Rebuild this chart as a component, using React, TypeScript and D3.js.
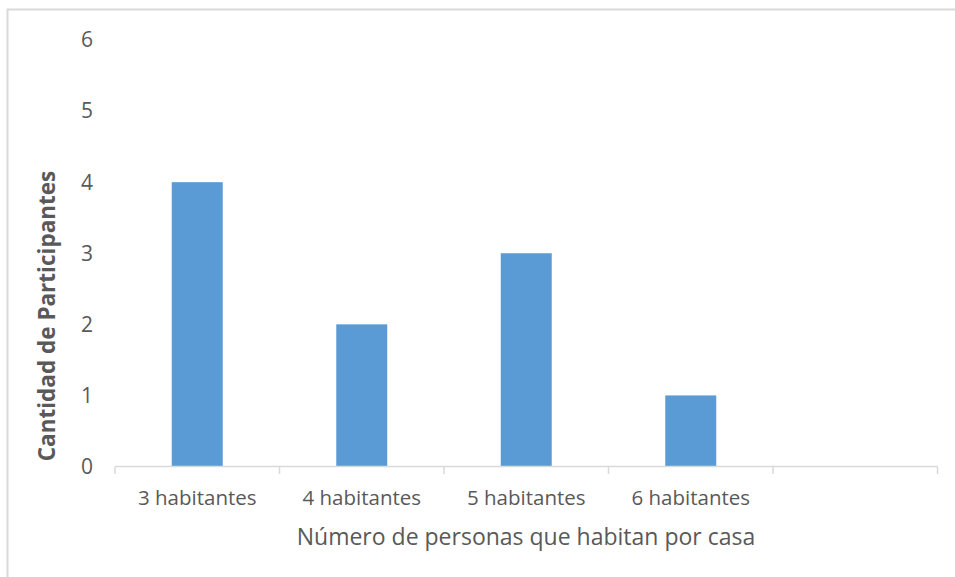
import React from "react";
import * as d3 from "d3";

const categories = ["3 habitantes", "4 habitantes", "5 habitantes", "6 habitantes", ""];
const values: (number | null)[] = [4, 2, 3, 1, null];
const yTicks = [0, 1, 2, 3, 4, 5, 6];
const yTitle = "Cantidad de Participantes";
const xTitle = "Número de personas que habitan por casa";

const W = 955;
const H = 577;
const FONT = "'Open Sans', 'DejaVu Sans', sans-serif";

export default function App() {
  const x = d3.scaleBand<string>().domain(categories.map((c, i) => String(i))).range([115, 937.5]).paddingInner(0).paddingOuter(0);
  const y = d3.scaleLinear().domain([0, 6]).range([466.5, 40]);
  const bw = x.bandwidth() * 0.31;
  const boundaries = d3.range(categories.length + 1).map((i) => 115 + i * x.bandwidth());

  return (
    <svg width={W} height={H} style={{ position: "absolute", left: 0, top: 0, background: "#fff" }} fontFamily={FONT}>
      <rect x={7.5} y={9.5} width={W + 10} height={H + 10} fill="#fff" stroke="#d9d9d9" strokeWidth={2} />
      {yTicks.map((t) => (
        <text key={t} x={93} y={y(t)} dy="0.35em" textAnchor="end" fontSize={21} fill="#595959">
          {t}
        </text>
      ))}
      {values.map((v, i) =>
        v == null ? null : (
          <rect
            key={i}
            x={(x(String(i)) as number) + (x.bandwidth() - bw) / 2}
            y={y(v)}
            width={bw}
            height={y(0) - y(v)}
            fill="#5b9bd5"
          />
        )
      )}
      <line x1={115} x2={937.5} y1={466.5} y2={466.5} stroke="#d9d9d9" strokeWidth={1.5} />
      {boundaries.map((b, i) => (
        <line key={i} x1={b} x2={b} y1={466.5} y2={474} stroke="#d9d9d9" strokeWidth={1.5} />
      ))}
      {categories.map((c, i) => (
        <text
          key={i}
          x={(x(String(i)) as number) + x.bandwidth() / 2}
          y={498}
          dy="0.35em"
          textAnchor="middle"
          fontSize={20.5}
          fill="#595959"
        >
          {c}
        </text>
      ))}
      <text x={526} y={537} dy="0.35em" textAnchor="middle" fontSize={23} fill="#595959">
        {xTitle}
      </text>
      <text
        transform={`translate(47,316) rotate(-90)`}
        dy="0.35em"
        textAnchor="middle"
        fontSize={22.5}
        fontWeight="bold"
        fill="#595959"
      >
        {yTitle}
      </text>
    </svg>
  );
}
